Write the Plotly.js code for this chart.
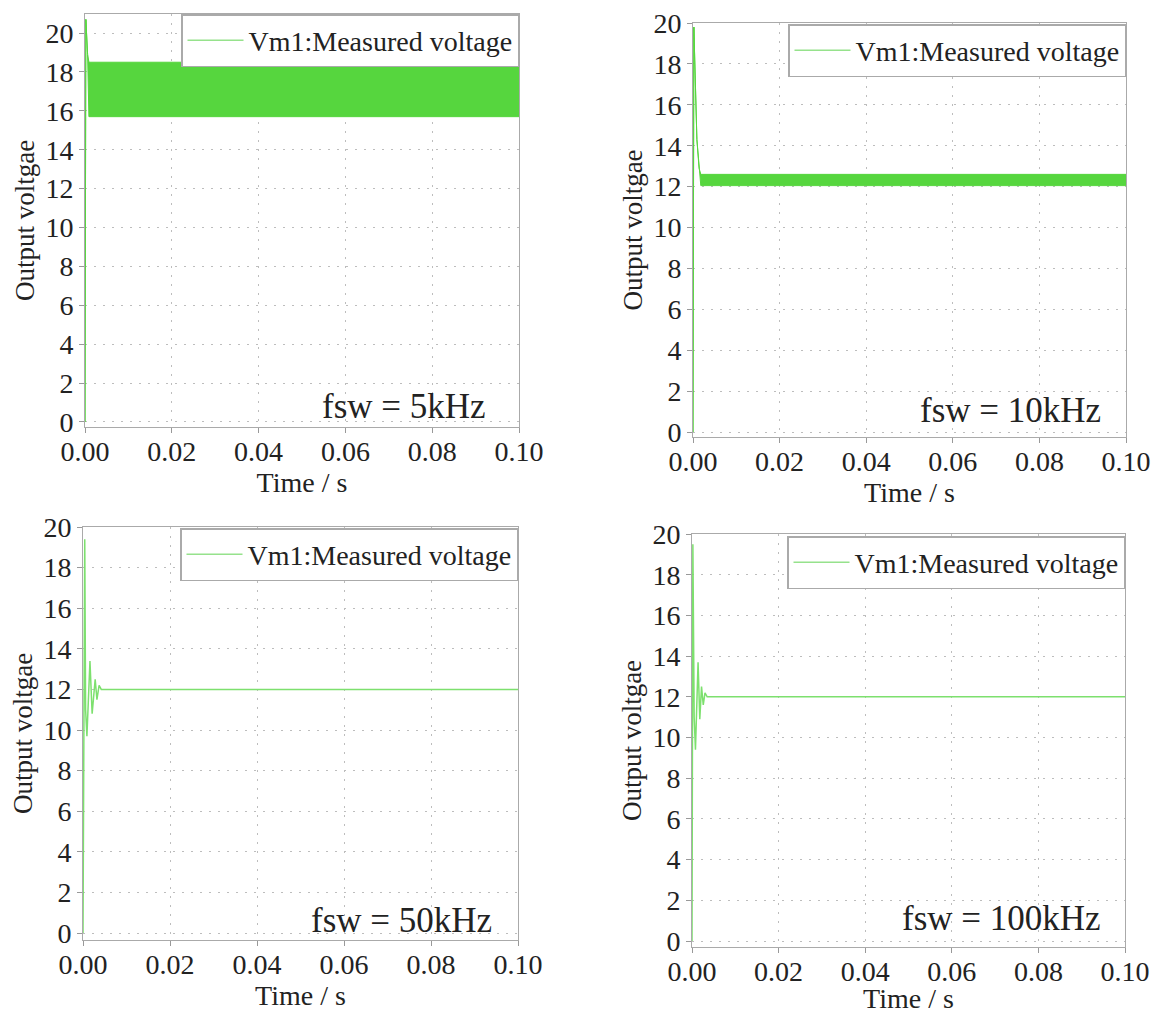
<!DOCTYPE html>
<html>
<head>
<meta charset="utf-8">
<script src="https://cdn.plot.ly/plotly-3.0.1.min.js"></script>
<style>html,body{margin:0;padding:0;background:#fff;}#chart{width:1158px;height:1014px;}</style>
</head>
<body>
<div id="chart"></div>
<script>
// ---------- data ----------
const legendLabel = "Vm1:Measured voltage";
const xTitle = "Time / s";
const yTitle = "Output voltgae";
const panelLabels = ["fsw = 5kHz", "fsw = 10kHz", "fsw = 50kHz", "fsw = 100kHz"];

// fsw = 5 kHz : ripple band envelope (upper / lower)
const t_5k   = [0, 0.0002, 0.0006, 0.0009, 0.1000];
const up_5k  = [0, 20.7, 18.9, 18.5, 18.5];
const low_5k = [0, 20.7, 18.9, 15.7, 15.7];

// fsw = 10 kHz : ripple band envelope (upper / lower)
const t_10k   = [0, 0.0002, 0.0009, 0.0014, 0.0018, 0.1000];
const up_10k  = [0, 19.8, 14.3, 12.9, 12.6, 12.6];
const low_10k = [0, 19.8, 14.3, 12.9, 12.05, 12.05];

// fsw = 50 kHz : damped transient then flat
const t_50k = [0, 0.0004, 0.0006, 0.0009, 0.0016, 0.0021, 0.0028, 0.0032, 0.0037, 0.0042, 0.1000];
const v_50k = [0, 19.4, 11.0, 9.7, 13.4, 10.8, 12.5, 11.5, 12.2, 12.0, 12.0];

// fsw = 100 kHz : damped transient then flat
const t_100k = [0, 0.0002, 0.0005, 0.0008, 0.0014, 0.0018, 0.0022, 0.0026, 0.0030, 0.0035, 0.1000];
const v_100k = [0, 19.5, 11.0, 9.4, 13.7, 10.9, 12.5, 11.6, 12.2, 12.0, 12.0];

const xTickVals = [0, 0.02, 0.04, 0.06, 0.08, 0.10];
const xTickText = ["0.00", "0.02", "0.04", "0.06", "0.08", "0.10"];
const yTickVals = [0, 2, 4, 6, 8, 10, 12, 14, 16, 18, 20];

// ---------- layout geometry (pixels) ----------
const W = 1158, H = 1014;
const FONT = "'Liberation Serif', 'Times New Roman', serif";
const TXT = "#222";
const panels = [
  {l: 85,  r: 519,  t: 14,  b: 427, yr: [-0.26, 20.98], lgx: 519,  lgy: 14,  ax: 404,  ay: 406},
  {l: 693, r: 1126, t: 23,  b: 437, yr: [-0.24, 20],    lgx: 1126, lgy: 24,  ax: 1010, ay: 410},
  {l: 83,  r: 518,  t: 527, b: 940, yr: [-0.34, 20],    lgx: 518,  lgy: 528, ax: 401,  ay: 920},
  {l: 692, r: 1125, t: 534, b: 947, yr: [-0.29, 20],    lgx: 1125, lgy: 536, ax: 1001, ay: 918}
];
const px = x => x / W;
const py = y => 1 - y / H;

const bandColor = "rgb(86,214,62)";
const lineColor = "rgb(125,224,110)";
const legendLine = "rgb(150,226,140)";

const traces = [];
function ax(i, s) { return i === 0 ? s : s + (i + 1); }

// panel 1
traces.push({x: t_5k, y: low_5k, type: "scatter", mode: "lines", line: {color: bandColor, width: 1},
  xaxis: "x", yaxis: "y", showlegend: false});
traces.push({x: t_5k, y: up_5k, type: "scatter", mode: "lines", line: {color: bandColor, width: 1},
  fill: "tonexty", fillcolor: bandColor, xaxis: "x", yaxis: "y", showlegend: false});
// panel 2
traces.push({x: t_10k, y: low_10k, type: "scatter", mode: "lines", line: {color: bandColor, width: 1},
  xaxis: "x2", yaxis: "y2", showlegend: false});
traces.push({x: t_10k, y: up_10k, type: "scatter", mode: "lines", line: {color: bandColor, width: 1},
  fill: "tonexty", fillcolor: bandColor, xaxis: "x2", yaxis: "y2", showlegend: false});
// panel 3
traces.push({x: t_50k, y: v_50k, type: "scatter", mode: "lines", line: {color: lineColor, width: 1.5},
  xaxis: "x3", yaxis: "y3", showlegend: false});
// panel 4
traces.push({x: t_100k, y: v_100k, type: "scatter", mode: "lines", line: {color: lineColor, width: 1.5},
  xaxis: "x4", yaxis: "y4", showlegend: false});

// legend entries (no coordinates; legend symbols only)
["legend", "legend2", "legend3", "legend4"].forEach((lg, i) => {
  traces.push({x: [null], y: [null], type: "scatter", mode: "lines", name: legendLabel,
    line: {color: legendLine, width: 1.5}, legend: lg, xaxis: ax(i, "x"), yaxis: ax(i, "y"),
    showlegend: true, hoverinfo: "skip"});
});

const layout = {
  width: W, height: H,
  margin: {l: 0, r: 0, t: 0, b: 0},
  paper_bgcolor: "#fff", plot_bgcolor: "#fff",
  font: {family: FONT, color: TXT, size: 28},
  showlegend: true,
  annotations: []
};

panels.forEach((p, i) => {
  const xa = ax(i, "xaxis"), ya = ax(i, "yaxis");
  layout[xa] = {
    domain: [px(p.l), px(p.r)], range: [0, 0.1], anchor: ax(i, "y"),
    tickvals: xTickVals, ticktext: xTickText, ticks: "outside", ticklen: 5, tickcolor: "#999",
    ticklabelstandoff: -6,
    showline: true, linecolor: "#aaa", linewidth: 1, mirror: true,
    showgrid: true, gridcolor: "#bdbdbd", griddash: "2px,7px", gridwidth: 1, zeroline: false,
    tickfont: {family: FONT, size: 28, color: TXT},
    title: {text: xTitle, font: {family: FONT, size: 28, color: TXT}, standoff: 0},
    automargin: false, fixedrange: true
  };
  layout[ya] = {
    domain: [py(p.b), py(p.t)], range: p.yr, anchor: ax(i, "x"),
    tickvals: yTickVals, ticks: "outside", ticklen: 5, tickcolor: "#999",
    showline: true, linecolor: "#aaa", linewidth: 1, mirror: true,
    showgrid: true, gridcolor: "#bdbdbd", griddash: "2px,7px", gridwidth: 1, zeroline: false,
    tickfont: {family: FONT, size: 28, color: TXT},
    title: {text: yTitle, font: {family: FONT, size: 27, color: TXT}, standoff: 2},
    automargin: false, fixedrange: true
  };
  const lgName = i === 0 ? "legend" : "legend" + (i + 1);
  layout[lgName] = {
    x: px(p.lgx), y: py(p.lgy), xanchor: "right", yanchor: "top",
    bgcolor: "#fff", bordercolor: "#aaa", borderwidth: 1.5,
    itemwidth: 56,
    font: {family: FONT, size: 28, color: TXT}
  };
  layout.annotations.push({
    text: panelLabels[i], xref: "paper", yref: "paper", x: px(p.ax), y: py(p.ay),
    xanchor: "center", yanchor: "middle", showarrow: false,
    font: {family: FONT, size: 35, color: TXT}
  });
});

Plotly.newPlot("chart", traces, layout, {displayModeBar: false, staticPlot: true});
</script>
</body>
</html>
